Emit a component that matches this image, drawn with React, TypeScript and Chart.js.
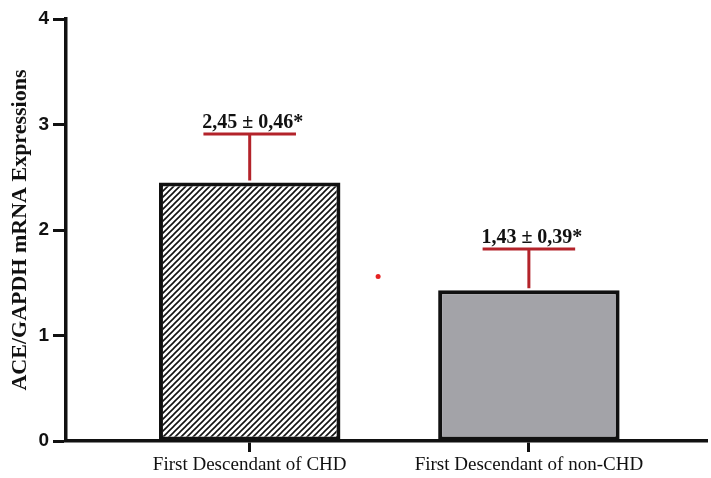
import React, { useEffect, useRef } from "react";
import { Chart, registerables } from "chart.js";

Chart.register(...registerables);

const categories = ["First Descendant of CHD", "First Descendant of non-CHD"];
const categoryPositions = [1, 2];
const means = [2.45, 1.43];
const sds = [0.46, 0.39];
const yTicks = [0, 1, 2, 3, 4];
const strayX = [1.46];
const strayY = [1.56];

const fmt = (v: number) => v.toFixed(2).replace(".", ",");

function makeHatch(): CanvasPattern | string {
  const c = document.createElement("canvas");
  const s = 6;
  c.width = s;
  c.height = s;
  const ctx = c.getContext("2d");
  if (!ctx) return "#fff";
  ctx.fillStyle = "#ffffff";
  ctx.fillRect(0, 0, s, s);
  ctx.strokeStyle = "#111111";
  ctx.lineWidth = 1.6;
  ctx.beginPath();
  ctx.moveTo(-1, s + 1);
  ctx.lineTo(s + 1, -1);
  ctx.moveTo(-1, 1);
  ctx.lineTo(1, -1);
  ctx.moveTo(s - 1, s + 1);
  ctx.lineTo(s + 1, s - 1);
  ctx.stroke();
  const p = ctx.createPattern(c, "repeat");
  return p || "#fff";
}

const errorBarPlugin = {
  id: "errorBars",
  afterDatasetsDraw(chart: any) {
    const meta = chart.getDatasetMeta(0);
    const yScale = chart.scales.y;
    const ctx = chart.ctx;
    ctx.save();
    meta.data.forEach((el: any, i: number) => {
      const x = el.x;
      const top = yScale.getPixelForValue(means[i] + sds[i]);
      const half = el.width * 0.255;
      ctx.strokeStyle = "#b3232a";
      ctx.lineWidth = 3;
      ctx.beginPath();
      ctx.moveTo(x, el.y - 2);
      ctx.lineTo(x, top);
      ctx.moveTo(x - half, top);
      ctx.lineTo(x + half, top);
      ctx.stroke();
      ctx.fillStyle = "#111111";
      ctx.font = "bold 20px 'Liberation Serif', 'Times New Roman', serif";
      ctx.textAlign = "center";
      ctx.textBaseline = "alphabetic";
      ctx.fillText(`${fmt(means[i])} ± ${fmt(sds[i])}*`, x + 3, top - 6);
    });
    ctx.restore();
  },
};

export default function App() {
  const ref = useRef<HTMLCanvasElement | null>(null);
  useEffect(() => {
    if (!ref.current) return;
    const hatch = makeHatch();
    const chart = new Chart(ref.current, {
      type: "bar",
      data: {
        datasets: [
          {
            type: "bar",
            data: categoryPositions.map((x, i) => ({ x, y: means[i] })),
            backgroundColor: [hatch as any, "#a3a3a8"],
            borderColor: "#111111",
            borderWidth: 4,
            borderSkipped: false,
            barPercentage: 0.65,
            categoryPercentage: 1,
          } as any,
          {
            type: "scatter",
            data: strayX.map((x, i) => ({ x, y: strayY[i] })),
            backgroundColor: "#e52222",
            borderColor: "#e52222",
            pointRadius: 2.5,
            borderWidth: 0,
          } as any,
        ],
      },
      options: {
        animation: false,
        responsive: false,
        maintainAspectRatio: false,
        layout: { padding: { top: 19, right: 0, bottom: 0, left: 0 } },
        plugins: {
          legend: { display: false },
          tooltip: { enabled: false },
        },
        scales: {
          x: {
            type: "linear",
            offset: false,
            min: 0.342,
            max: 2.638,
            afterBuildTicks: (scale: any) => {
              scale.ticks = categoryPositions.map((v) => ({ value: v }));
            },
            afterFit: (scale: any) => {
              scale.height = 37;
            },
            grid: {
              offset: false,
              drawOnChartArea: false,
              tickLength: 11,
              tickWidth: 3,
              tickColor: "#111111",
            },
            border: { display: true, color: "#111111", width: 3.5 },
            ticks: {
              autoSkip: false,
              maxRotation: 0,
              padding: 2,
              color: "#111111",
              font: { family: "'Liberation Serif', 'Times New Roman', serif", size: 19 },
              callback: (v: any) => categories[Math.round(Number(v)) - 1] ?? "",
            },
          },
          y: {
            type: "linear",
            min: 0,
            max: 4,
            afterBuildTicks: (scale: any) => {
              scale.ticks = yTicks.map((v) => ({ value: v }));
            },
            afterFit: (scale: any) => {
              scale.width = 66;
            },
            grid: {
              drawOnChartArea: false,
              tickLength: 13,
              tickWidth: 3,
              tickColor: "#111111",
            },
            border: { display: true, color: "#111111", width: 3.5 },
            ticks: {
              padding: 4,
              color: "#111111",
              font: { family: "'Liberation Sans', Arial, sans-serif", size: 19, weight: "bold" },
            },
            title: {
              display: true,
              text: "ACE/GAPDH mRNA Expressions",
              color: "#111111",
              padding: { top: 7, bottom: 0 },
              font: { family: "'Liberation Serif', 'Times New Roman', serif", size: 22, weight: "bold" },
            },
          },
        },
      },
      plugins: [errorBarPlugin],
    } as any);
    return () => chart.destroy();
  }, []);
  return (
    <div style={{ position: "absolute", left: 0, top: 0, width: 711, height: 478, background: "#fff" }}>
      <canvas ref={ref} width={711} height={478} />
    </div>
  );
}
